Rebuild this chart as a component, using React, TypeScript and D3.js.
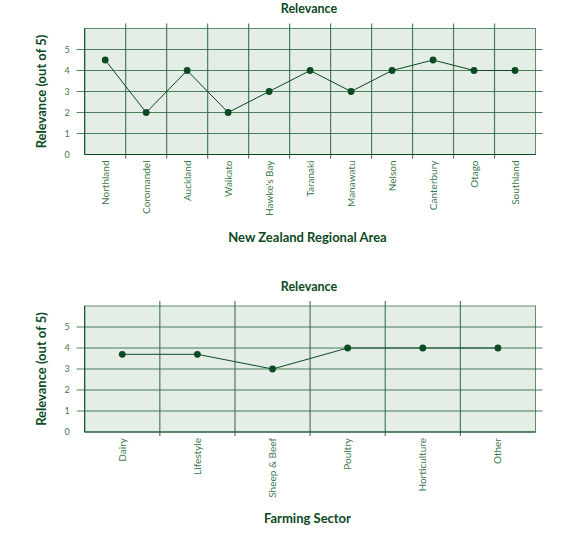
import React from "react";
import * as d3 from "d3";

const regions = ["Northland","Coromandel","Auckland","Waikato","Hawke's Bay","Taranaki","Manawatu","Nelson","Canterbury","Otago","Southland"];
const regionValues = [4.5,2,4,2,3,4,3,4,4.5,4,4];
const sectors = ["Dairy","Lifestyle","Sheep & Beef","Poultry","Horticulture","Other"];
const sectorValues = [3.7,3.7,3,4,4,4];
const yTicks = [0,1,2,3,4,5];

const DARK = "#0b4a22";
const GRID = "#2f6b42";
const LABEL = "#3c7a4f";
const FONT = "Lato, 'Noto Sans', sans-serif";

type PanelProps = {
  cats: string[];
  vals: number[];
  top: number;
  bottom: number;
  title: string;
  xTitle: string;
  titleY: number;
  xTitleY: number;
};

function Panel({ cats, vals, top, bottom, title, xTitle, titleY, xTitleY }: PanelProps) {
  const left = 84.7;
  const right = 535.5;
  const x = d3.scaleBand<string>().domain(cats).range([left, right]).padding(0);
  const y = d3.scaleLinear().domain([0, 6]).range([bottom, top]);
  const line = d3
    .line<number>()
    .x((_, i) => (x(cats[i]) as number) + x.bandwidth() / 2)
    .y((v) => y(v));
  const boundaries = cats.slice(1).map((c) => x(c) as number);
  const midY = (top + bottom) / 2;
  return (
    <g>
      <text x={309} y={titleY} textAnchor="middle" fontFamily={FONT} fontWeight={700} fontSize={12.5} fill={DARK}>
        {title}
      </text>
      <rect x={left} y={top} width={right - left} height={bottom - top} fill="#e4ede6" stroke="#5e8f6c" strokeWidth={1} />
      {boundaries.map((bx, i) => (
        <line key={"v" + i} x1={bx} x2={bx} y1={top - 5} y2={bottom + 4} stroke={GRID} strokeWidth={1.2} strokeOpacity={0.85} />
      ))}
      {yTicks.filter((t) => t > 0).map((t) => (
        <line key={"h" + t} x1={left - 8} x2={right + 7} y1={y(t)} y2={y(t)} stroke={GRID} strokeWidth={1.2} strokeOpacity={0.85} />
      ))}
      <line x1={left} x2={left} y1={top} y2={bottom} stroke={DARK} strokeWidth={1} />
      <line x1={left} x2={right} y1={bottom} y2={bottom} stroke={DARK} strokeWidth={1.2} />
      {yTicks.map((t) => (
        <text key={"yt" + t} x={67} y={y(t) + 3} textAnchor="middle" fontFamily={FONT} fontSize={9} fill={LABEL}>
          {t}
        </text>
      ))}
      <path d={line(vals) || ""} fill="none" stroke={DARK} strokeWidth={1} />
      {vals.map((v, i) => (
        <circle key={"c" + i} cx={(x(cats[i]) as number) + x.bandwidth() / 2} cy={y(v)} r={3.4} fill={DARK} />
      ))}
      {cats.map((c) => {
        const cx = (x(c) as number) + x.bandwidth() / 2;
        return (
          <text
            key={"xl" + c}
            transform={`translate(${cx + 3.5},${bottom + 6}) rotate(-90)`}
            textAnchor="end"
            fontFamily={FONT}
            fontSize={10}
            fill={LABEL}
          >
            {c}
          </text>
        );
      })}
      <text
        transform={`translate(${46},${midY}) rotate(-90)`}
        textAnchor="middle"
        fontFamily={FONT}
        fontWeight={700}
        fontSize={13}
        fill={DARK}
      >
        Relevance (out of 5)
      </text>
      <text x={307.5} y={xTitleY} textAnchor="middle" fontFamily={FONT} fontWeight={700} fontSize={13} fill={DARK}>
        {xTitle}
      </text>
    </g>
  );
}

export default function App() {
  return (
    <svg width={578} height={539} style={{ position: "absolute", left: 0, top: 0, background: "#fff" }}>
      <Panel cats={regions} vals={regionValues} top={28.5} bottom={154.5} title="Relevance" xTitle="New Zealand Regional Area" titleY={13} xTitleY={242} />
      <Panel cats={sectors} vals={sectorValues} top={306} bottom={432} title="Relevance" xTitle="Farming Sector" titleY={291} xTitleY={523} />
    </svg>
  );
}
